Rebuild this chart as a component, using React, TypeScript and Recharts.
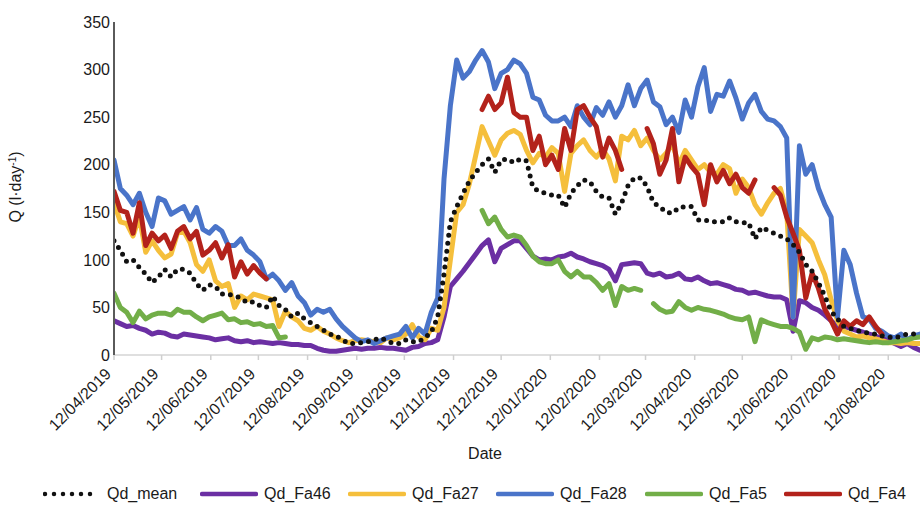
import React from 'react';
import { LineChart, Line, XAxis, YAxis } from 'recharts';

// Day offsets from 12/04/2019 (sampling of the daily series)
const START = Date.UTC(2019, 3, 12);
const DAYS = [
  0, 4, 8, 12, 16, 20, 24, 28, 32, 36, 40, 44, 48, 52, 56, 60,
  64, 68, 72, 76, 80, 84, 88, 92, 96, 100, 104, 108, 112, 116, 120, 124,
  128, 132, 136, 140, 144, 148, 152, 156, 160, 164, 168, 172, 176, 180, 184, 188,
  192, 196, 200, 204, 208, 212, 216, 220, 224, 228, 232, 236, 240, 244, 248, 252,
  256, 260, 264, 268, 272, 276, 280, 284, 288, 292, 296, 300, 304, 308, 312, 316,
  320, 324, 328, 332, 336, 340, 344, 348, 352, 356, 360, 364, 368, 372, 376, 380,
  384, 388, 392, 396, 400, 404, 408, 412, 416, 420, 424, 428, 432, 436, 440, 444,
  448, 452, 456, 460, 464, 468, 472, 476, 480, 484, 488, 492, 496, 500, 504, 508,
];

const TICK_LABELS = [
  '12/04/2019', '12/05/2019', '12/06/2019', '12/07/2019', '12/08/2019', '12/09/2019',
  '12/10/2019', '12/11/2019', '12/12/2019', '12/01/2020', '12/02/2020', '12/03/2020',
  '12/04/2020', '12/05/2020', '12/06/2020', '12/07/2020', '12/08/2020',
];
const Y_TICKS = [0, 50, 100, 150, 200, 250, 300, 350];

const QD_MEAN = [
  120, 110, 98, 100, 92, 85, 76, 82, 90, 82, 90, 90, 86, 75, 68, 74,
  72, 64, 64, 62, 60, 55, 56, 52, 50, 62, 52, 48, 40, 44, 38, 34,
  30, 26, 22, 20, 16, 12, 12, 13, 14, 16, 18, 15, 12, 12, 16, 14,
  14, 18, 24, 40, 85, 140, 156, 170, 183, 192, 200, 206, 192, 205, 206, 202,
  206, 204, 176, 172, 170, 168, 168, 155, 170, 178, 184, 182, 172, 166, 165, 148,
  160, 178, 186, 186, 177, 160, 156, 150, 149, 155, 156, 156, 142, 142, 140, 140,
  140, 144, 140, 139, 139, 122, 134, 131, 128, 125, 122, 116, 108, 95, 88, 76,
  62, 46, 38, 30, 28, 26, 24, 23, 22, 20, 19, 18, 20, 22, 22, 22,
];

const QD_FA46 = [
  36, 33, 30, 31, 28, 26, 22, 24, 23, 20, 19, 22, 21, 20, 19, 18,
  16, 17, 18, 15, 14, 15, 13, 14, 13, 12, 13, 12, 11, 11, 10, 10,
  7, 5, 4, 4, 5, 6, 7, 6, 7, 7, 8, 7, 7, 6, 5, 8,
  9, 12, 13, 16, 40, 72, 80, 88, 97, 106, 115, 121, 98, 112, 116, 120,
  120, 112, 104, 100, 101, 100, 103, 104, 107, 103, 101, 98, 96, 94, 90, 78,
  95, 96, 97, 96, 86, 84, 86, 82, 83, 86, 80, 79, 82, 78, 75, 76,
  74, 72, 69, 68, 65, 66, 64, 62, 61, 61, 58, 25, 57, 55, 50, 47,
  42, 36, 30, 30, 28, 26, 24, 22, 20, 17, 16, 12, 9, 12, 8, 5,
];

const QD_FA27 = [
  160, 140, 138, 125, 145, 108, 120, 110, 102, 106, 128, 130, 118, 95, 88, 100,
  78, 72, 75, 50, 62, 58, 64, 62, 60, 58, 30, 46, 40, 36, 28, 26,
  30, 25, 22, 18, 15, 13, 15, 16, 15, 14, 13, 18, 16, 18, 22, 32,
  19, 16, 28, 26, 50, 100, 150, 158, 180, 210, 240, 225, 210, 226, 233, 236,
  232, 215, 202, 212, 208, 218, 212, 172, 212, 220, 226, 215, 208, 216, 206, 183,
  230, 226, 236, 220, 228, 215, 205, 212, 222, 200, 215, 205, 195, 200, 192, 190,
  200, 196, 170, 185, 176, 158, 148, 160, 170, 175, 150, 40, 132, 125, 118, 100,
  84, 58, 36, 25, 22, 19, 20, 18, 17, 15, 13, 13, 12, 13, 12, 12,
];

const QD_FA28 = [
  205, 175, 168, 158, 170, 150, 135, 165, 162, 148, 152, 156, 142, 155, 132, 128,
  135, 130, 115, 115, 122, 110, 105, 98, 80, 85, 78, 68, 76, 62, 55, 42,
  48, 45, 48, 38, 30, 24, 18, 14, 16, 12, 15, 18, 20, 22, 30, 18,
  28, 22, 45, 60, 185, 262, 310, 291, 298, 310, 320, 308, 280, 296, 300, 310,
  306, 296, 271, 268, 252, 246, 246, 250, 240, 262, 250, 242, 260, 252, 266, 250,
  262, 284, 262, 280, 289, 266, 261, 242, 250, 234, 268, 250, 282, 302, 256, 274,
  272, 288, 270, 248, 265, 274, 256, 248, 246, 240, 228, 40, 220, 190, 200, 175,
  158, 145, 40, 110, 95, 65, 40, 38, 28, 25, 20, 18, 22, 16, 20, 22,
];

const QD_FA5 = [
  65, 50, 45, 34, 46, 38, 42, 44, 44, 42, 48, 45, 45, 40, 36, 40,
  42, 44, 37, 38, 34, 35, 32, 33, 30, 31, 18, 19, null, null, null, null,
  null, null, null, null, null, null, null, null, null, null, null, null, null, null, null, null,
  null, null, null, null, null, null, null, null, null, null, 152, 138, 145, 132, 124, 126,
  124, 115, 104, 98, 96, 96, 100, 88, 82, 88, 82, 82, 76, 68, 75, 52,
  72, 68, 70, 68, null, 54, 48, 45, 46, 56, 50, 47, 50, 48, 47, 45,
  43, 40, 38, 37, 40, 14, 37, 34, 32, 30, 30, 28, 24, 6, 18, 16,
  19, 18, 16, 17, 16, 15, 14, 13, 14, 13, 13, 14, 15, 16, 18, 19,
];

const QD_FA4 = [
  172, 152, 150, 128, 160, 115, 128, 120, 126, 112, 130, 135, 122, 130, 105, 110,
  118, 102, 116, 82, 98, 85, 94, 86, 80, null, null, null, null, null, null, null,
  null, null, null, null, null, null, null, null, null, null, null, null, null, null, null, null,
  null, null, null, null, null, null, null, null, null, null, 258, 272, 258, 265, 292, 255,
  250, 250, 215, 230, 200, 210, 195, 238, 215, 258, 262, 250, 240, 208, 228, 215,
  195, null, null, null, 238, 222, 190, 205, 238, 182, 208, 198, 190, 158, 200, 182,
  194, 180, 190, 176, 170, 184, null, null, 176, 168, 145, 128, 110, 60, 86, 70,
  48, 36, 22, 36, 30, 36, 32, 40, 30, 22, null, null, null, null, null, null,
];

const SERIES = [
  { key: 'fa46', name: 'Qd_Fa46', color: '#6B2FA3' },
  { key: 'fa27', name: 'Qd_Fa27', color: '#F5BF3C' },
  { key: 'fa28', name: 'Qd_Fa28', color: '#4A74C9' },
  { key: 'fa5', name: 'Qd_Fa5', color: '#72AE48' },
  { key: 'fa4', name: 'Qd_Fa4', color: '#B3221B' },
];

const data = DAYS.map((day, i) => ({
  day,
  mean: QD_MEAN[i],
  fa46: QD_FA46[i],
  fa27: QD_FA27[i],
  fa28: QD_FA28[i],
  fa5: QD_FA5[i],
  fa4: QD_FA4[i],
}));

const labelToDay = (s: string) => {
  const [d, m, y] = s.split('/').map(Number);
  return Math.round((Date.UTC(y, m - 1, d) - START) / 86400000);
};
const X_TICKS = TICK_LABELS.map(labelToDay);
const dayToLabel = (v: number) => {
  const idx = X_TICKS.indexOf(v);
  return idx >= 0 ? TICK_LABELS[idx] : '';
};

const FONT = "'Liberation Sans', Arial, Helvetica, sans-serif";

const DateTick = (props: any) => {
  const { x, y, payload } = props;
  const ax = x - 2;
  const ay = y + 15;
  return (
    <text x={ax} y={ay} textAnchor="end" fontSize={16} fill="#1a1a1a"
      fontFamily={FONT} transform={`rotate(-45 ${ax} ${ay})`}>
      {dayToLabel(payload.value)}
    </text>
  );
};

const LEGEND = [
  { name: 'Qd_mean', color: '#111', dotted: true, left: 43 },
  { name: 'Qd_Fa46', color: '#6B2FA3', left: 200 },
  { name: 'Qd_Fa27', color: '#F5BF3C', left: 348 },
  { name: 'Qd_Fa28', color: '#4A74C9', left: 496 },
  { name: 'Qd_Fa5', color: '#72AE48', left: 645 },
  { name: 'Qd_Fa4', color: '#B3221B', left: 784 },
];

export default function App() {
  return (
    <div style={{ position: 'fixed', left: 0, top: 0, width: 922, height: 510, background: '#fff', fontFamily: FONT }}>
      <LineChart width={922} height={510} data={data}
        margin={{ top: 22, right: 2, bottom: 0, left: 54 }}
        style={{ fontFamily: FONT }}>
        <XAxis dataKey="day" type="number" domain={[0, 508]} ticks={X_TICKS}
          interval={0} height={155} tickSize={5} tickMargin={0}
          stroke="#d4d4d4" strokeWidth={1.5}
          tickLine={{ stroke: '#cfcfcf', strokeWidth: 1.5 }}
          tick={<DateTick />}
          label={{
            content: () => (
              <text x={485} y={459} textAnchor="middle" fontSize={16} fill="#1a1a1a" fontFamily={FONT}>Date</text>
            ),
          }}
          allowDataOverflow />
        <YAxis type="number" domain={[0, 350]} ticks={Y_TICKS} width={60}
          tickLine={false} tickSize={0} tickMargin={4}
          axisLine={{ stroke: '#5a5a5a', strokeWidth: 2 }}
          tick={{ fontSize: 16, fill: '#1a1a1a', fontFamily: FONT }}
          label={{
            content: () => (
              <text x={21} y={187} textAnchor="middle" fontSize={16} fill="#1a1a1a" fontFamily={FONT}
                transform="rotate(-90 21 187)">
                Q (l·day<tspan baselineShift="super" fontSize={10}>-1</tspan>)
              </text>
            ),
          }} />
        {SERIES.map((s) => (
          <Line key={s.key} dataKey={s.key} name={s.name} type="linear" stroke={s.color}
            strokeWidth={5} dot={false} activeDot={false} isAnimationActive={false}
            strokeLinejoin="round" strokeLinecap="round" connectNulls={false} />
        ))}
        <Line dataKey="mean" name="Qd_mean" type="linear" stroke="#111"
          strokeWidth={5} strokeDasharray="0 8" strokeLinecap="round"
          dot={false} activeDot={false} isAnimationActive={false} />
      </LineChart>
      {LEGEND.map((l) => (
        <div key={l.name} style={{ position: 'absolute', left: l.left, top: 484, height: 20, display: 'flex', alignItems: 'center' }}>
          <svg width={58} height={10} style={{ display: 'block' }}>
            {l.dotted ? (
              <line x1={2} y1={5} x2={56} y2={5} stroke={l.color} strokeWidth={4.5}
                strokeDasharray="0 9" strokeLinecap="round" />
            ) : (
              <line x1={2} y1={5} x2={56} y2={5} stroke={l.color} strokeWidth={4.5} strokeLinecap="round" />
            )}
          </svg>
          <span style={{ marginLeft: 6, fontSize: 16, color: '#1a1a1a', lineHeight: '20px' }}>{l.name}</span>
        </div>
      ))}
    </div>
  );
}
